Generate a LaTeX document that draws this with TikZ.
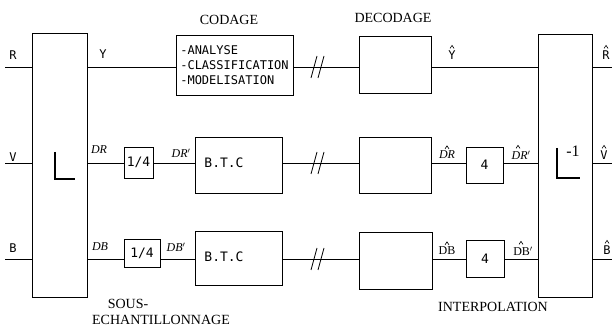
\documentclass[tikz,border=0pt]{standalone}
\usepackage{fontspec}
\setmainfont{Liberation Serif}
\setmonofont{DejaVu Sans Mono}
\newcommand{\hatat}[2][0]{\draw[line width=0.6pt] ([xshift=#1pt,yshift=2pt]#2.north) ++(-2,0) -- ++(2,-3) -- ++(2,3);}
\begin{document}
\begin{tikzpicture}[x=1pt,y=-1pt,
  blk/.style={draw,line width=0.8pt,inner sep=0pt},
  wire/.style={line width=0.8pt},
  lbl/.style={font=\ttfamily\fontsize{12}{14}\selectfont,inner sep=0pt},
  ilbl/.style={font=\itshape\fontsize{12}{14}\selectfont,inner sep=0pt},
  ttl/.style={font=\fontsize{14}{16}\selectfont,inner sep=0pt},
  brk/.style={line width=0.8pt}]
\useasboundingbox (0,0) rectangle (615,328);
% rows
\coordinate (r1) at (0,67);
\coordinate (r2) at (0,163);
\coordinate (r3) at (0,259);
% main blocks
\node[blk,minimum width=55,minimum height=264] (Lb) at (59.5,165) {};
\node[blk,minimum width=54,minimum height=263] (Li) at (565,165.5) {};
\node[blk,minimum width=117,minimum height=60,align=left,font=\ttfamily\fontsize{12}{15}\selectfont] (cod) at (234.5,65) {-ANALYSE\\-CLASSIFICATION\\-MODELISATION};
\node[blk,minimum width=72,minimum height=57] (d1) at (395,64.5) {};
\node[blk,minimum width=29,minimum height=31,font=\ttfamily\fontsize{13}{15}\selectfont] (q2) at (138.5,162.5) {1/4};
\node[blk,minimum width=87,minimum height=56] (b2) at (238.5,165) {};
\node[blk,minimum width=72,minimum height=56] (d2) at (395,165) {};
\node[blk,minimum width=37,minimum height=36,font=\ttfamily\fontsize{13}{15}\selectfont] (f2) at (484.5,165) {4};
\node[blk,minimum width=36,minimum height=28,font=\ttfamily\fontsize{13}{15}\selectfont] (q3) at (142,253) {1/4};
\node[blk,minimum width=87,minimum height=54] (b3) at (238.5,258) {};
\node[blk,minimum width=73,minimum height=57] (d3) at (395.5,260.5) {};
\node[blk,minimum width=38,minimum height=37,font=\ttfamily\fontsize{13}{15}\selectfont] (f3) at (485,258.5) {4};
\node[lbl,font=\ttfamily\fontsize{13}{15}\selectfont] (t2) at (224,163) {B.T.C};
\node[lbl,font=\ttfamily\fontsize{13}{15}\selectfont] (t3) at (224,257) {B.T.C};
% L symbols
\draw[line width=2pt] (55,152) -- (55,179) -- (75,179);
\draw[line width=2pt] (557,148) -- (557,178) -- (580,178);
\node[font=\fontsize{16}{18}\selectfont,inner sep=0pt] (m1) at (573,151) {-1};
% endpoints
\coordinate (iR) at (5,67);
\coordinate (iV) at (5,163);
\coordinate (iB) at (5,259);
\coordinate (oR) at (612,67);
\coordinate (oV) at (612,163);
\coordinate (oB) at (612,259);
% wires row1
\draw[wire] (iR) -- (Lb.west |- iR);
\draw[wire] (Lb.east |- r1) -- (cod.west |- r1);
\draw[wire] (cod.east |- r1) -- (d1.west |- r1);
\draw[wire] (d1.east |- r1) -- (Li.west |- r1);
\draw[wire] (Li.east |- oR) -- (oR);
% row2
\draw[wire] (iV) -- (Lb.west |- iV);
\draw[wire] (Lb.east |- r2) -- (q2.west |- r2);
\draw[wire] (q2.east |- r2) -- (b2.west |- r2);
\draw[wire] (b2.east |- r2) -- (d2.west |- r2);
\draw[wire] (d2.east |- r2) -- (f2.west |- r2);
\draw[wire] (f2.east |- r2) -- (Li.west |- r2);
\draw[wire] (Li.east |- oV) -- (oV);
% row3
\draw[wire] (iB) -- (Lb.west |- iB);
\draw[wire] (Lb.east |- r3) -- (q3.west |- r3);
\draw[wire] (q3.east |- r3) -- (b3.west |- r3);
\draw[wire] (b3.east |- r3) -- (d3.west |- r3);
\draw[wire] (d3.east |- r3) -- (f3.west |- r3);
\draw[wire] (f3.east |- r3) -- (Li.west |- r3);
\draw[wire] (Li.east |- oB) -- (oB);
% breaks
\foreach \yy in {67,163,259}{
  \draw[brk] (311,\yy+11) -- (317,\yy-11);
  \draw[brk] (318,\yy+11) -- (324,\yy-11);
}
% labels
\node[lbl] (lR) at (13,55) {R};
\node[lbl] (lV) at (13,157) {V};
\node[lbl] (lB) at (13,248) {B};
\node[lbl] (lY) at (103,54) {Y};
\node[ilbl] (lDR) at (99,150) {DR};
\node[ilbl] (lDRp) at (181,153) {DR$'$};
\node[ilbl] (lDB) at (100,247) {DB};
\node[ilbl] (lDBp) at (176,247) {DB$'$};
\node[lbl] (lYh) at (452,55) {Y};
\node[lbl] (lRh) at (606,55) {R};
\node[lbl] (lVh) at (604,155) {V};
\node[lbl] (lBh) at (607,250) {B};
\node[ilbl] (lDRh) at (447,155) {DR};
\node[ilbl] (lDRph) at (521,155) {DR$'$};
\node[ttl,font=\fontsize{12}{14}\selectfont] (lDBh) at (447,251) {DB};
\node[ttl,font=\fontsize{12}{14}\selectfont] (lDBph) at (523,251) {DB$'$};
\hatat{lYh}
\hatat{lRh}
\hatat{lVh}
\hatat{lBh}
\hatat{lDRh}
\hatat[-3]{lDRph}
\hatat{lDBh}
\hatat[-2]{lDBph}
% titles
\node[ttl] (tc) at (229,20) {CODAGE};
\node[ttl] (td) at (393,18) {DECODAGE};
\node[ttl] (ts) at (128,304) {SOUS-};
\node[ttl] (te) at (161,320) {ECHANTILLONNAGE};
\node[ttl] (ti) at (493,307) {INTERPOLATION};
\end{tikzpicture}
\end{document}
